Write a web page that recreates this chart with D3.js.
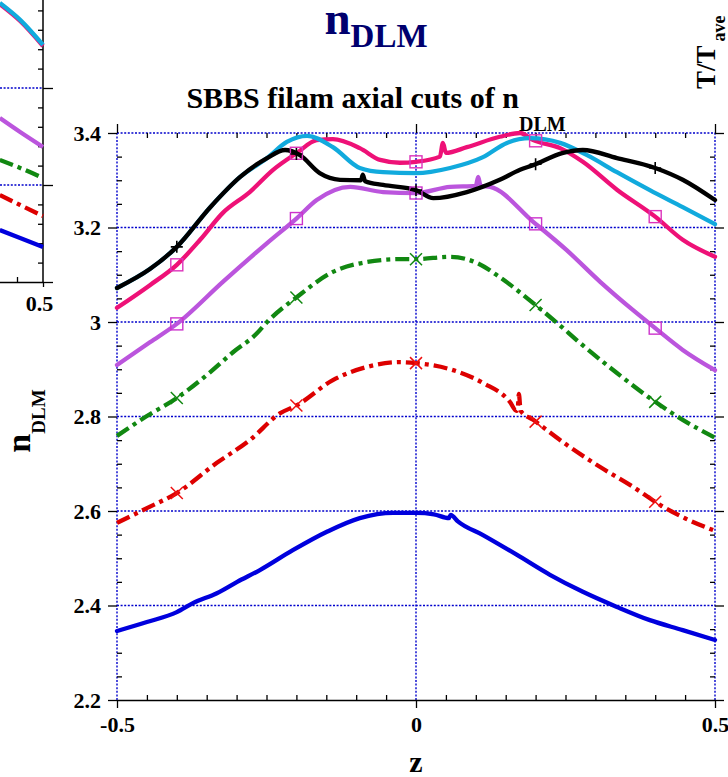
<!DOCTYPE html>
<html><head><meta charset="utf-8">
<script src="https://cdn.jsdelivr.net/npm/d3@7"></script>
<style>
body{margin:0;background:#fff}
svg{display:block}
text{font-family:"Liberation Serif","Times New Roman",serif;font-weight:bold}
</style>
</head><body>
<svg id="c" width="728" height="777"></svg>
<script>
// ---------- data ----------
const yTicks = [2.2, 2.4, 2.6, 2.8, 3, 3.2, 3.4];
const xTicks = [-0.5, 0, 0.5];
const markerZ = [-0.4, -0.2, 0, 0.2, 0.4];

const blueZ = [-0.5,-0.45,-0.4,-0.373,-0.333,-0.299,-0.261,-0.206,-0.149,-0.094,-0.038,0,0.03,0.055,0.058,0.07,0.112,0.169,0.224,0.279,0.336,0.391,0.446,0.5];
const blueN = [2.346,2.365,2.386,2.405,2.426,2.450,2.475,2.517,2.556,2.585,2.596,2.596,2.593,2.585,2.592,2.578,2.549,2.507,2.465,2.429,2.397,2.369,2.348,2.327];

const redZ = [-0.5,-0.45,-0.4,-0.333,-0.278,-0.227,-0.199,-0.139,-0.082,-0.027,0,0.057,0.112,0.157,0.168,0.170,0.172,0.175,0.196,0.252,0.308,0.363,0.403,0.446,0.5];
const redN = [2.575,2.606,2.638,2.702,2.750,2.807,2.824,2.877,2.905,2.915,2.913,2.900,2.871,2.831,2.812,2.814,2.848,2.812,2.793,2.740,2.693,2.651,2.617,2.587,2.558];

const greenZ = [-0.5,-0.45,-0.4,-0.344,-0.306,-0.266,-0.249,-0.199,-0.139,-0.082,-0.027,0,0.057,0.102,0.140,0.196,0.236,0.274,0.336,0.4,0.446,0.5];
const greenN = [2.759,2.801,2.839,2.894,2.936,2.976,3.000,3.053,3.106,3.127,3.133,3.133,3.138,3.125,3.095,3.040,2.998,2.956,2.892,2.831,2.793,2.755];

const purpleZ = [-0.5,-0.445,-0.4,-0.323,-0.249,-0.199,-0.166,-0.110,-0.055,0,0.057,0.100,0.104,0.108,0.124,0.196,0.252,0.308,0.363,0.4,0.446,0.5];
const purpleN = [2.909,2.957,2.996,3.085,3.167,3.220,3.258,3.286,3.275,3.273,3.286,3.288,3.307,3.288,3.286,3.212,3.152,3.085,3.025,2.987,2.941,2.898];

const pinkZ = [-0.5,-0.445,-0.4,-0.361,-0.323,-0.278,-0.239,-0.199,-0.166,-0.139,-0.094,-0.060,-0.027,0,0.040,0.045,0.050,0.085,0.140,0.174,0.196,0.241,0.279,0.336,0.4,0.446,0.5];
const pinkN = [3.030,3.078,3.121,3.174,3.231,3.275,3.322,3.358,3.385,3.387,3.368,3.343,3.337,3.339,3.350,3.379,3.358,3.370,3.392,3.400,3.385,3.368,3.339,3.280,3.223,3.174,3.138];

const cyanZ = [-0.5,-0.445,-0.4,-0.344,-0.294,-0.249,-0.216,-0.182,-0.139,-0.094,-0.055,0,0.057,0.112,0.152,0.191,0.241,0.286,0.336,0.391,0.446,0.5];
const cyanN = [3.072,3.112,3.159,3.243,3.307,3.347,3.381,3.394,3.370,3.326,3.317,3.315,3.326,3.349,3.379,3.389,3.379,3.353,3.317,3.279,3.243,3.207];

const blackZ = [-0.5,-0.445,-0.4,-0.344,-0.294,-0.249,-0.219,-0.194,-0.161,-0.127,-0.092,-0.089,-0.085,-0.055,0,0.029,0.085,0.140,0.174,0.196,0.246,0.279,0.336,0.4,0.446,0.5];
const blackN = [3.072,3.112,3.159,3.243,3.307,3.347,3.364,3.353,3.315,3.301,3.300,3.312,3.298,3.290,3.279,3.262,3.275,3.301,3.322,3.332,3.358,3.364,3.347,3.326,3.301,3.258];

// partial neighbouring panel (left edge of the page)
const leftZ = [0.417, 0.456, 0.5];
const leftCyan = [1.438, 1.351, 1.222];
const leftPink = [1.432, 1.345, 1.216];
const leftPurple = [0.845, 0.773, 0.696];
const leftGreen = [0.629, 0.588, 0.536];
const leftRed = [0.448, 0.397, 0.340];
const leftBlue = [0.268, 0.227, 0.180];
const leftYTicks = [0, 0.5, 1];

// ---------- drawing ----------
const svg = d3.select("#c");
const x = d3.scaleLinear().domain([-0.5, 0.5]).range([117, 715]);
const y = d3.scaleLinear().domain([2.2, 3.4]).range([700, 133]);
const gridColor = "#0000cc";

const series = [
  {z: blueZ, n: blueN, color: "#0000dd", dash: null, marker: null},
  {z: redZ, n: redN, color: "#dd0000", dash: "14,5,4,5", marker: "x", mcolor: "#ee1111"},
  {z: greenZ, n: greenN, color: "#118811", dash: "14,5,4,5", marker: "x", mcolor: "#118811"},
  {z: purpleZ, n: purpleN, color: "#bb55dd", dash: null, marker: "sq", mcolor: "#cc33cc"},
  {z: pinkZ, n: pinkN, color: "#ee1177", dash: null, marker: "sq", mcolor: "#dd33bb"},
  {z: cyanZ, n: cyanN, color: "#11aadd", dash: null, marker: null},
  {z: blackZ, n: blackN, color: "#000000", dash: null, marker: "+", mcolor: "#000000"}
];

// grid
const grid = svg.append("g");
grid.selectAll("line.h").data(yTicks.filter(d => d > 2.2)).join("line")
  .attr("x1", x(-0.5)).attr("x2", x(0.5))
  .attr("y1", d => y(d)).attr("y2", d => y(d))
  .attr("stroke", gridColor).attr("stroke-width", 1.4).attr("stroke-dasharray", "2,1.6");
grid.selectAll("line.v").data(xTicks).join("line")
  .attr("y1", y(2.2)).attr("y2", y(3.4))
  .attr("x1", d => x(d)).attr("x2", d => x(d))
  .attr("stroke", gridColor).attr("stroke-width", 1.4).attr("stroke-dasharray", "2,1.6");

// minor tick positions
const minorY = d3.range(1, 24).filter(i => i % 4 !== 0).map(i => 2.2 + i * 0.05);
const minorX = d3.range(1, 20).filter(i => i % 10 !== 0).map(i => -0.5 + i * 0.05);

function styleAxis(g, keepDomain) {
  if (!keepDomain) g.select(".domain").remove();
  else g.select(".domain").attr("stroke", "#000").attr("stroke-width", 1.5);
  g.selectAll(".tick line").attr("stroke", "#000").attr("stroke-width", 1.3);
  g.selectAll(".tick text").attr("fill", "#000").style("font-size", "22px")
    .style("font-family", '"Liberation Serif","Times New Roman",serif').style("font-weight", "bold");
}
const fmt = d => String(d);

svg.append("g").attr("transform", "translate(117,0)")
  .call(d3.axisLeft(y).tickValues(yTicks).tickSize(9).tickPadding(7).tickFormat(fmt))
  .call(g => styleAxis(g, false));
svg.append("g").attr("transform", "translate(117,0)")
  .call(d3.axisLeft(y).tickValues(minorY).tickSize(-5).tickFormat(""))
  .call(g => styleAxis(g, false));
svg.append("g").attr("transform", "translate(715,0)")
  .call(d3.axisRight(y).tickValues(yTicks).tickSize(9).tickFormat(""))
  .call(g => styleAxis(g, false));
svg.append("g").attr("transform", "translate(715,0)")
  .call(d3.axisRight(y).tickValues(minorY).tickSize(-5).tickFormat(""))
  .call(g => styleAxis(g, false));
svg.append("g").attr("transform", "translate(0,700)")
  .call(d3.axisBottom(x).tickValues(xTicks).tickSize(8).tickSizeOuter(0).tickPadding(8).tickFormat(fmt))
  .call(g => styleAxis(g, true));
svg.append("g").attr("transform", "translate(0,700)")
  .call(d3.axisBottom(x).tickValues(minorX).tickSize(-5).tickFormat(""))
  .call(g => styleAxis(g, false));
svg.append("g").attr("transform", "translate(0,133)")
  .call(d3.axisTop(x).tickValues(xTicks).tickSize(9).tickFormat(""))
  .call(g => styleAxis(g, false));
svg.append("g").attr("transform", "translate(0,133)")
  .call(d3.axisTop(x).tickValues(minorX).tickSize(-5).tickFormat(""))
  .call(g => styleAxis(g, false));

// series lines
const line = d3.line().x(d => x(d[0])).y(d => y(d[1])).curve(d3.curveMonotoneX);
const lines = svg.append("g");
series.forEach(s => {
  const pts = s.z.map((z, i) => [z, s.n[i]]);
  lines.append("path").datum(pts).attr("d", line)
    .attr("fill", "none").attr("stroke", s.color).attr("stroke-width", 4.3)
    .attr("stroke-linejoin", "round")
    .attr("stroke-linecap", s.dash ? "butt" : "round")
    .attr("stroke-dasharray", s.dash);
});

// markers
const mk = svg.append("g");
series.forEach(s => {
  if (!s.marker) return;
  const interp = d3.scaleLinear().domain(s.z).range(s.n);
  markerZ.forEach(z => {
    const cx = x(z), cy = y(interp(z)), r = 6;
    if (s.marker === "sq") {
      mk.append("rect").attr("x", cx - 6).attr("y", cy - 6).attr("width", 12).attr("height", 12)
        .attr("fill", "none").attr("stroke", s.mcolor).attr("stroke-width", 1.4);
    } else if (s.marker === "x") {
      mk.append("path").attr("d", `M${cx-r},${cy-r}L${cx+r},${cy+r}M${cx-r},${cy+r}L${cx+r},${cy-r}`)
        .attr("stroke", s.mcolor).attr("stroke-width", 1.5);
    } else {
      mk.append("path").attr("d", `M${cx-r},${cy}L${cx+r},${cy}M${cx},${cy-r}L${cx},${cy+r}`)
        .attr("stroke", s.mcolor).attr("stroke-width", 1.6);
    }
  });
});

// ---------- left partial panel ----------
const lx = d3.scaleLinear().domain([0.4, 0.5]).range([43 - 52, 43]);
const ly = d3.scaleLinear().domain([0, 1]).range([282, 88]);
const lp = svg.append("g");
lp.selectAll("line.g").data([0.5, 1]).join("line")
  .attr("x1", 0).attr("x2", lx(0.5)).attr("y1", d => ly(d)).attr("y2", d => ly(d))
  .attr("stroke", gridColor).attr("stroke-width", 1.4).attr("stroke-dasharray", "2,1.6");
const leftMinor = d3.range(1, 15).filter(i => i % 5 !== 0).map(i => i * 0.1);
lp.append("g").attr("transform", `translate(${lx(0.5)},0)`)
  .call(d3.axisRight(ly).tickValues(leftYTicks).tickSize(10).tickFormat(""))
  .call(g => { g.select(".domain").remove(); g.selectAll(".tick line").attr("stroke", "#000").attr("stroke-width", 1.3); });
lp.append("g").attr("transform", `translate(${lx(0.5)},0)`)
  .call(d3.axisRight(ly).tickValues(leftMinor).tickSize(-5).tickFormat(""))
  .call(g => { g.select(".domain").remove(); g.selectAll(".tick line").attr("stroke", "#000").attr("stroke-width", 1.3); });
lp.append("line").attr("x1", lx(0.5)).attr("x2", lx(0.5)).attr("y1", 0).attr("y2", ly(0))
  .attr("stroke", "#000").attr("stroke-width", 1.5);
lp.append("g").attr("transform", `translate(0,${ly(0)})`)
  .call(d3.axisBottom(lx).tickValues([0.5]).tickSize(5).tickSizeOuter(0).tickPadding(8).tickFormat(fmt))
  .call(g => { g.select(".domain").attr("stroke", "#000").attr("stroke-width", 1.5);
               g.selectAll(".tick line").attr("stroke", "#000").attr("stroke-width", 1.3);
               g.selectAll(".tick text").attr("fill", "#000").attr("x", -4).style("font-size", "22px")
                 .style("font-family", '"Liberation Serif",serif').style("font-weight", "bold"); });
lp.append("g").attr("transform", `translate(0,${ly(0)})`)
  .call(d3.axisBottom(lx).tickValues([0.45]).tickSize(-5).tickFormat(""))
  .call(g => { g.select(".domain").remove(); g.selectAll(".tick line").attr("stroke", "#000").attr("stroke-width", 1.3); });
const lline = d3.line().x(d => lx(d[0])).y(d => ly(d[1])).curve(d3.curveMonotoneX);
[[leftBlue, "#0000dd", null], [leftRed, "#dd0000", "14,5,4,5"], [leftGreen, "#118811", "14,5,4,5"],
 [leftPurple, "#bb55dd", null], [leftPink, "#ee1177", null], [leftCyan, "#11aadd", null]].forEach(([vals, c, dash]) => {
  lp.append("path").datum(leftZ.map((z, i) => [z, vals[i]])).attr("d", lline)
    .attr("fill", "none").attr("stroke", c).attr("stroke-width", 4.3).attr("stroke-dasharray", dash);
});

// ---------- texts ----------
const title = svg.append("text").attr("x", 376).attr("y", 34).attr("text-anchor", "middle").attr("fill", "#00006e");
title.append("tspan").style("font-size", "47px").text("n");
title.append("tspan").style("font-size", "33px").attr("dy", 13).text("DLM");

const sub = svg.append("text").attr("x", 376).attr("y", 108).attr("text-anchor", "middle").attr("fill", "#000");
sub.append("tspan").style("font-size", "30px").text("SBBS filam axial cuts of n");
sub.append("tspan").style("font-size", "20px").attr("dy", 23).text("DLM");

const yl = svg.append("text").attr("transform", "translate(30,421) rotate(-90)").attr("text-anchor", "middle").attr("fill", "#000");
yl.append("tspan").style("font-size", "34px").text("n");
yl.append("tspan").style("font-size", "19px").attr("dy", 15).text("DLM");

svg.append("text").attr("x", 416).attr("y", 772).attr("text-anchor", "middle")
  .style("font-size", "30px").attr("fill", "#000").text("z");

const tl = svg.append("text").attr("transform", "translate(715,89) rotate(-90)").attr("text-anchor", "start").attr("fill", "#000");
tl.append("tspan").style("font-size", "27px").text("T/T");
tl.append("tspan").style("font-size", "18px").attr("dy", 10).attr("dx", 4).text("ave");
</script>
</body></html>
